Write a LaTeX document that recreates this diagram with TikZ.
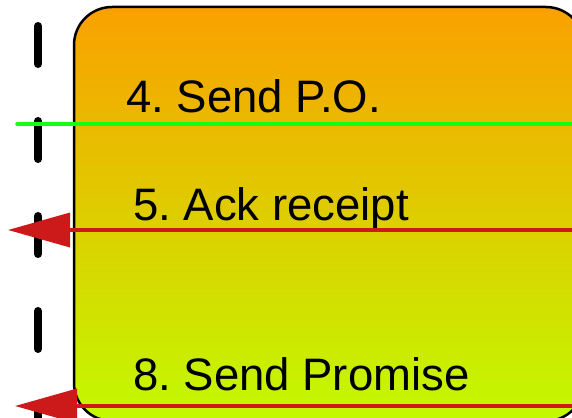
\documentclass[tikz,border=0pt]{standalone}
\usepackage{fontspec}
\setmainfont{Liberation Sans}
\usetikzlibrary{arrows.meta}
\definecolor{topc}{RGB}{250,160,0}
\definecolor{botc}{RGB}{194,250,0}
\definecolor{msgred}{RGB}{204,26,26}
\definecolor{msggreen}{RGB}{20,255,20}
\tikzset{
  box/.style={draw=black, line width=2.5pt, rounded corners=38pt, top color=topc, bottom color=botc},
  lifeline/.style={draw=black, line width=8pt, line cap=round, dash pattern=on 38pt off 57pt},
  label/.style={anchor=base west, inner sep=0pt, font=\fontsize{45.5pt}{50pt}\selectfont},
  greenmsg/.style={draw=msggreen, line width=3.5pt, line cap=round},
  redmsg/.style={draw=msgred, fill=msgred, line width=3.5pt, -{Triangle[length=62pt,width=34pt]}},
}
\begin{document}
\frenchspacing
\begin{tikzpicture}[x=1pt,y=-1pt]
\useasboundingbox (0,0) rectangle (572,417);
\clip (0,0) rectangle (572,417);
\path[box] (74,7) rectangle (584,421);
\coordinate (ltop) at (38,26);
\coordinate (lbot) at (38,470);
\draw[lifeline] (ltop) -- (lbot);
\node[label] (t4) at (126,113) {4. Send P.O.};
\node[label] (t5) at (133,220) {5. Ack receipt};
\node[label] (t8) at (133,390) {8. Send Promise};
\coordinate (g1) at (17,124);
\coordinate (g2) at (580,124);
\draw[greenmsg] (g1) -- (g2);
\coordinate (r1s) at (580,230);
\coordinate (r1e) at (8,230);
\draw[redmsg] (r1s) -- (r1e);
\coordinate (r2s) at (580,406);
\coordinate (r2e) at (15,406);
\draw[redmsg] (r2s) -- (r2e);
\end{tikzpicture}
\end{document}
